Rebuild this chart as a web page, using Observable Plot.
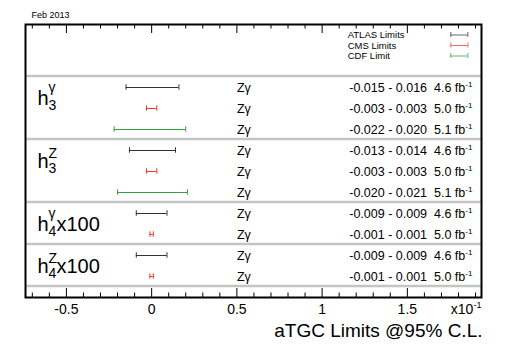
<!DOCTYPE html>
<html><head><meta charset="utf-8">
<script src="https://cdn.jsdelivr.net/npm/d3@7"></script>
<script src="https://cdn.jsdelivr.net/npm/@observablehq/plot@0.6"></script>
<style>
html,body{margin:0;padding:0;background:#fff;}
svg text{white-space:pre;}
</style></head><body><div id="chart"></div>
<script>
// ---- data ----
const couplingBase = ["h", "h", "h", "h"];
const couplingSup = ["γ", "Z", "γ", "Z"];
const couplingSub = ["3", "3", "4", "4"];
const couplingScale = ["", "", "x100", "x100"];
const experimentNames = ["ATLAS", "CMS", "CDF"];
const legendLabels = ["ATLAS Limits", "CMS Limits", "CDF Limit"];
const experimentColors = ["#333333", "#ff3333", "#3a9c3a"];
const groupExperiments = [["ATLAS", "CMS", "CDF"], ["ATLAS", "CMS", "CDF"], ["ATLAS", "CMS"], ["ATLAS", "CMS"]];
const lowerLimits = [[-0.015, -0.003, -0.022], [-0.013, -0.003, -0.020], [-0.009, -0.001], [-0.009, -0.001]];
const upperLimits = [[0.016, 0.003, 0.020], [0.014, 0.003, 0.021], [0.009, 0.001], [0.009, 0.001]];
const luminosities = [["4.6", "5.0", "5.1"], ["4.6", "5.0", "5.1"], ["4.6", "5.0"], ["4.6", "5.0"]];
const processName = "Zγ";
const majorTicks = [-0.5, 0, 0.5, 1, 1.5];
const axisExponent = "x10^{-1}";
const axisTitle = "aTGC Limits @95% C.L.";
const dateLabel = "Feb 2013";
const axisFactor = 10; // bars are drawn in units of 10^-1

// ---- build tables ----
const rows = [];
const groups = [];
let k = 0;
groupExperiments.forEach((exps, g) => {
  const first = k;
  exps.forEach((e, i) => {
    const lo = lowerLimits[g][i], hi = upperLimits[g][i];
    rows.push({
      group: g, exp: e, row: k,
      lo: lo * axisFactor, hi: hi * axisFactor,
      label: `${lo.toFixed(3)} - ${hi.toFixed(3)}  ${luminosities[g][i]} fb^{-1}`
    });
    k++;
  });
  groups.push({
    g, first, last: k - 1,
    base: couplingBase[g], sup: couplingSup[g], sub: couplingSub[g], scale: couplingScale[g]
  });
});
const separators = [groups[0].first - 0.55, ...groups.map(d => d.last + 0.45)];
const legend = experimentNames.map((e, i) => ({exp: e, label: legendLabels[i], row: -2.5 + 0.5 * i}));
const minorTicks = d3.range(-7, 20).filter(i => i % 5 !== 0).map(i => i / 10);

// ---- layout ----
const W = 507, H = 346, mL = 25, mR = 26, mT = 24, mB = 49;
const frameH = H - mT - mB;
const font = "'Liberation Sans', Arial, Helvetica, sans-serif";
const processX = 0.5;
const legendTextX = 1.15, legendBar = [1.755, 1.855];
const capHalf = 0.13;
const labelY = d => d.first + 0.83;
const supGreek = groups.filter(d => d.sup === "γ");
const supLatin = groups.filter(d => d.sup !== "γ");

const chart = Plot.plot({
  width: W, height: H,
  marginLeft: mL, marginRight: mR, marginTop: mT, marginBottom: mB,
  style: {fontFamily: font, background: "white", color: "black"},
  x: {domain: [-0.74, 1.935], axis: null},
  y: {domain: [-3, 10], range: [mT, H - mB], axis: null},
  color: {domain: experimentNames, range: experimentColors},
  marks: [
    // separators
    Plot.ruleY(separators, {y: d => d, stroke: "#c4c4c4", strokeWidth: 2.5}),
    // ticks top & bottom (inward)
    Plot.ruleX(majorTicks, {x: d => d, insetBottom: frameH - 9, stroke: "black"}),
    Plot.ruleX(majorTicks, {x: d => d, insetTop: frameH - 9, stroke: "black"}),
    Plot.ruleX(minorTicks, {x: d => d, insetBottom: frameH - 4.5, stroke: "black"}),
    Plot.ruleX(minorTicks, {x: d => d, insetTop: frameH - 4.5, stroke: "black"}),
    // error bars
    Plot.ruleY(rows, {y: "row", x1: "lo", x2: "hi", stroke: "exp", strokeWidth: 1}),
    Plot.ruleX(rows, {x: "lo", y1: d => d.row - capHalf, y2: d => d.row + capHalf, stroke: "exp"}),
    Plot.ruleX(rows, {x: "hi", y1: d => d.row - capHalf, y2: d => d.row + capHalf, stroke: "exp"}),
    // process labels
    Plot.text(rows, {x: () => processX, y: "row", text: () => processName, textAnchor: "start", fontSize: 12.5, lineAnchor: "middle"}),
    // limits text
    Plot.text(rows, {y: "row", text: "label", frameAnchor: "right", textAnchor: "end", dx: -9, fontSize: 12.5, lineAnchor: "middle"}),
    // coupling labels
    Plot.text(groups, {y: labelY, text: "base", frameAnchor: "left", textAnchor: "start", lineAnchor: "bottom", dx: 12, fontSize: 20}),
    Plot.text(supGreek, {y: labelY, text: "sup", frameAnchor: "left", textAnchor: "start", lineAnchor: "bottom", dx: 23, dy: -13, fontSize: 14}),
    Plot.text(supLatin, {y: labelY, text: "sup", frameAnchor: "left", textAnchor: "start", lineAnchor: "bottom", dx: 23, dy: -10, fontSize: 14}),
    Plot.text(groups, {y: labelY, text: "sub", frameAnchor: "left", textAnchor: "start", lineAnchor: "bottom", dx: 23, dy: 5.5, fontSize: 14}),
    Plot.text(groups, {y: labelY, text: "scale", frameAnchor: "left", textAnchor: "start", lineAnchor: "bottom", dx: 31, fontSize: 20}),
    // legend
    Plot.text(legend, {x: () => legendTextX, y: "row", text: "label", textAnchor: "start", lineAnchor: "middle", fontSize: 9.5}),
    Plot.ruleY(legend, {y: "row", x1: () => legendBar[0], x2: () => legendBar[1], stroke: "exp", strokeOpacity: 0.75}),
    Plot.ruleX(legend, {x: () => legendBar[0], y1: d => d.row - 0.12, y2: d => d.row + 0.12, stroke: "exp", strokeOpacity: 0.75}),
    Plot.ruleX(legend, {x: () => legendBar[1], y1: d => d.row - 0.12, y2: d => d.row + 0.12, stroke: "exp", strokeOpacity: 0.75}),
    // axis tick labels
    Plot.text(majorTicks, {x: d => d, text: d => String(d), frameAnchor: "bottom", lineAnchor: "bottom", dy: 16, fontSize: 14}),
    Plot.text([axisExponent], {frameAnchor: "bottom-right", textAnchor: "end", lineAnchor: "bottom", dy: 16, dx: 0, fontSize: 14}),
    Plot.text([axisTitle], {frameAnchor: "bottom-right", textAnchor: "end", lineAnchor: "bottom", dy: 39, dx: 1, fontSize: 19}),
    Plot.text([dateLabel], {frameAnchor: "top-left", textAnchor: "start", lineAnchor: "bottom", dx: 6, dy: -7, fontSize: 9}),
    // frame
    Plot.frame({stroke: "black", strokeWidth: 2})
  ]
});

// superscripts: turn "^{..}" into tspans
d3.select(chart).selectAll("text").each(function () {
  const s = this.textContent;
  if (!/\^\{/.test(s)) return;
  const node = d3.select(this);
  node.text(null);
  const re = /\^\{([^}]*)\}/g;
  let last = 0, m;
  while ((m = re.exec(s))) {
    if (m.index > last) node.append("tspan").text(s.slice(last, m.index));
    node.append("tspan").attr("dy", "-0.6em").style("font-size", "0.65em").text(m[1]);
    last = re.lastIndex;
  }
  if (last < s.length) node.append("tspan").attr("dy", "0.39em").text(s.slice(last));
});
document.getElementById("chart").appendChild(chart);
</script>
</body></html>
